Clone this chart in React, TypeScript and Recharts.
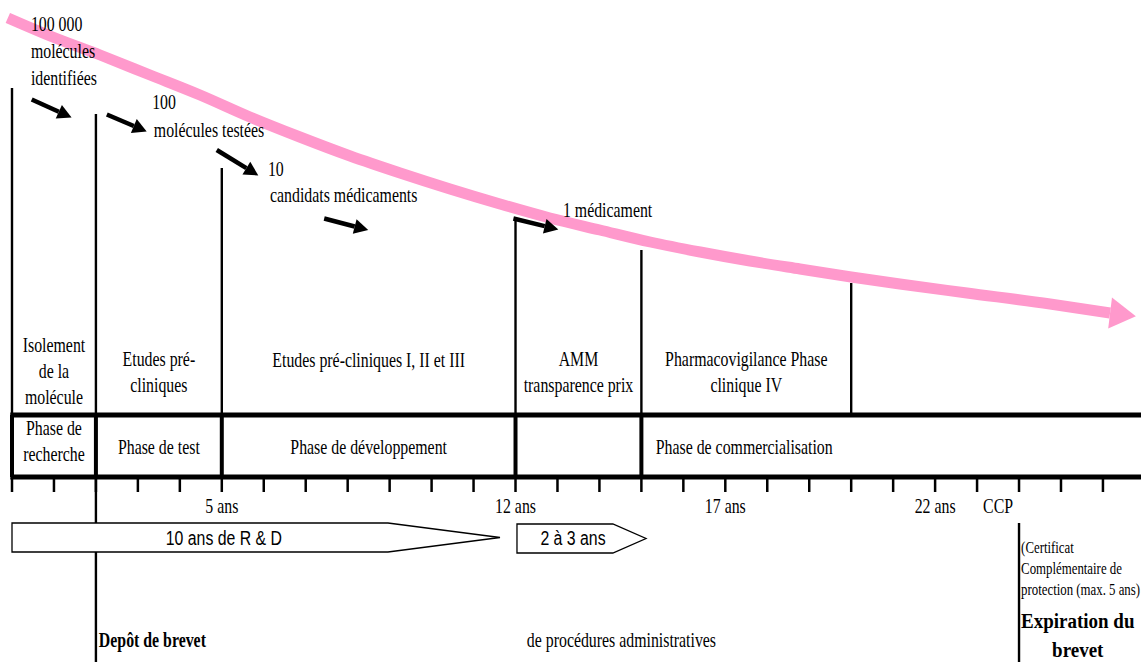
import React from 'react';
import { ComposedChart, Line, XAxis, YAxis, ReferenceLine, ReferenceArea, Scatter } from 'recharts';

const CHART_W = 1141;
const CHART_H = 662;
const YEAR_DOMAIN: [number, number] = [-0.286, 26.907];
const LEVEL_DOMAIN: [number, number] = [0, 662];

// Attrition curve (pink)
const curveYears = [-0.1, 0.91, 2.1, 3.29, 4.48, 5.67, 6.86, 8.06, 9.25, 10.44, 11.63, 12.82, 14.01, 15.21, 16.4, 17.59, 18.78, 20.0, 21.16, 22.76, 24.74, 26.17];
const curveLevels = [18, 36, 55, 75, 95, 117, 137, 156, 173, 189, 204, 218, 230, 242, 252, 261, 269, 277, 284, 293, 304, 313];
const curveData = curveYears.map((year, i) => ({ year, level: curveLevels[i] }));

// Small black arrows
const flowArrows = [
  { yearA: 0.47, levelA: 99.5, yearB: 1.42, levelB: 117.5 },
  { yearA: 2.26, levelA: 114.5, yearB: 3.21, levelB: 131.5 },
  { yearA: 4.88, levelA: 150, yearB: 5.87, levelB: 175.5 },
  { yearA: 7.44, levelA: 218.5, yearB: 8.49, levelB: 230 },
  { yearA: 11.95, levelA: 218.5, yearB: 13.02, levelB: 229.5 },
];

// Vertical dividers
const upperDividers = [
  { year: 0, top: 88 },
  { year: 2, top: 114 },
  { year: 5, top: 168 },
  { year: 12, top: 219 },
  { year: 15, top: 250 },
  { year: 20, top: 283 },
];
const lowerDividers = [0, 2, 5, 12, 15];
const milestoneDividers = [
  { year: 2, top: 477, bottom: 523 },
  { year: 2, top: 552, bottom: 662 },
  { year: 24, top: 523, bottom: 662 },
];
const tableRules = [415, 477];
const tickYears = [0, 1, 2, 3, 4, 5, 6, 7, 8, 9, 10, 11, 12, 13, 14, 15, 16, 17, 18, 19, 20, 21, 22, 23, 24, 25, 26];

// Duration arrows
const durationBoxes = [
  { from: 0, bodyEnd: 8.96, tip: 11.63, top: 523, bottom: 552 },
  { from: 12.035, bodyEnd: 14.32, tip: 15.11, top: 524, bottom: 553 },
];

// Texts
const noteTexts = [
  { year: 0.45, level: 31, lines: ['100 000', 'molécules', 'identifiées'], kind: 'note' },
  { year: 3.34, level: 109, lines: ['100'], kind: 'note' },
  { year: 3.38, level: 137, lines: ['molécules testées'], kind: 'note' },
  { year: 6.1, level: 176, lines: ['10'], kind: 'note' },
  { year: 6.15, level: 202, lines: ['candidats médicaments'], kind: 'note' },
  { year: 13.13, level: 217, lines: ['1 médicament'], kind: 'note' },
];
const upperCells = [
  { year: 1, level: 352, lines: ['Isolement', 'de la', 'molécule'], kind: 'cell' },
  { year: 3.5, level: 366, lines: ['Etudes pré-', 'cliniques'], kind: 'cell' },
  { year: 8.5, level: 367, lines: ['Etudes pré-cliniques I, II et III'], kind: 'cell' },
  { year: 13.5, level: 366, lines: ['AMM', 'transparence prix'], kind: 'cell' },
  { year: 17.5, level: 366, lines: ['Pharmacovigilance Phase', 'clinique IV'], kind: 'cell' },
];
const lowerCells = [
  { year: 1, level: 435, lines: ['Phase de', 'recherche'], kind: 'cell' },
  { year: 3.5, level: 454, lines: ['Phase de test'], kind: 'cell' },
  { year: 8.5, level: 454, lines: ['Phase de développement'], kind: 'cell' },
  { year: 17.45, level: 454, lines: ['Phase de commercialisation'], kind: 'cell' },
];
const tickLabels = [
  { year: 5, level: 513, lines: ['5 ans'], kind: 'cell' },
  { year: 12, level: 513, lines: ['12 ans'], kind: 'cell' },
  { year: 17, level: 513, lines: ['17 ans'], kind: 'cell' },
  { year: 22, level: 513, lines: ['22 ans'], kind: 'cell' },
  { year: 23.5, level: 513, lines: ['CCP'], kind: 'cell' },
];
const durationLabels = [
  { year: 5.05, level: 545, lines: ['10 ans de R & D'], kind: 'sans' },
  { year: 13.37, level: 545, lines: ['2 à 3 ans'], kind: 'sans' },
];
const footTexts = [
  { year: 2.07, level: 647, lines: ['Depôt de brevet'], kind: 'bold' },
  { year: 12.27, level: 647, lines: ['de procédures administratives'], kind: 'note' },
  { year: 24.05, level: 553, lines: ['(Certificat', 'Complémentaire de', 'protection (max. 5 ans)'], kind: 'small' },
  { year: 25.4, level: 628, lines: ['Expiration du', 'brevet'], kind: 'boldCenter' },
];

const allTexts = [...noteTexts, ...upperCells, ...lowerCells, ...tickLabels, ...durationLabels, ...footTexts];

const SERIF = '"Liberation Serif", "Times New Roman", serif';
const SANS = '"Liberation Sans", Arial, sans-serif';
const TEXT_STYLE: Record<string, any> = {
  note: { family: SERIF, size: 21, weight: 400, anchor: 'start', sx: 0.755, lh: 27 },
  cell: { family: SERIF, size: 21, weight: 400, anchor: 'middle', sx: 0.755, lh: 26 },
  small: { family: SERIF, size: 17, weight: 400, anchor: 'start', sx: 0.755, lh: 21 },
  bold: { family: SERIF, size: 21, weight: 700, anchor: 'start', sx: 0.755, lh: 27 },
  boldCenter: { family: SERIF, size: 20, weight: 700, anchor: 'middle', sx: 0.95, lh: 29 },
  sans: { family: SANS, size: 21, weight: 400, anchor: 'middle', sx: 0.755, lh: 26 },
};

const PINK = '#ff99cc';

const TextShape = (props: any) => {
  const { cx, cy, payload } = props;
  const st = TEXT_STYLE[payload.kind];
  return (
    <text
      transform={`translate(${cx},${cy}) scale(${st.sx},1)`}
      textAnchor={st.anchor}
      fontFamily={st.family}
      fontSize={st.size}
      fontWeight={st.weight}
      fill="#000"
    >
      {payload.lines.map((l: string, i: number) => (
        <tspan key={i} x={0} y={i * st.lh}>
          {l}
        </tspan>
      ))}
    </text>
  );
};

const ArrowShape = (props: any) => {
  const { x1, y1, x2, y2 } = props;
  const ang = Math.atan2(y2 - y1, x2 - x1);
  const L = 14;
  const hw = 7.5;
  const bx = x2 - L * Math.cos(ang);
  const by = y2 - L * Math.sin(ang);
  const px = -Math.sin(ang) * hw;
  const py = Math.cos(ang) * hw;
  return (
    <g>
      <line x1={x1} y1={y1} x2={bx} y2={by} stroke="#000" strokeWidth={4.5} />
      <polygon points={`${x2},${y2} ${bx + px},${by + py} ${bx - px},${by - py}`} fill="#000" />
    </g>
  );
};

const makeBoxShape = (box: any) => (props: any) => {
  const { x, y, width, height } = props;
  const frac = (box.bodyEnd - box.from) / (box.tip - box.from);
  const xe = x + width * frac;
  const xt = x + width;
  const ym = y + height / 2;
  return (
    <polygon
      points={`${x},${y} ${xe},${y} ${xt},${ym} ${xe},${y + height} ${x},${y + height}`}
      fill="#fff"
      stroke="#000"
      strokeWidth={1.3}
    />
  );
};

const renderCurveDot = (props: any) => {
  const { cx, cy, index } = props;
  if (index !== curveData.length - 1) return <g key={`d${index}`} />;
  const ang = (7 * Math.PI) / 180;
  const pts = [
    [0, -15.5],
    [26, 0],
    [0, 15.5],
  ]
    .map(([a, b]) => `${cx + a * Math.cos(ang) - b * Math.sin(ang)},${cy + a * Math.sin(ang) + b * Math.cos(ang)}`)
    .join(' ');
  return <polygon key={`d${index}`} points={pts} fill={PINK} />;
};

export default function App() {
  return (
    <div style={{ position: 'absolute', left: 0, top: 0, width: CHART_W, height: CHART_H, background: '#fff' }}>
      <ComposedChart width={CHART_W} height={CHART_H} margin={{ top: 0, right: 0, bottom: 0, left: 0 }}>
        <XAxis type="number" dataKey="year" domain={YEAR_DOMAIN} hide allowDataOverflow />
        <YAxis type="number" dataKey="level" domain={LEVEL_DOMAIN} reversed hide allowDataOverflow />

        {upperDividers.map((d, i) => (
          <ReferenceLine
            key={`u${i}`}
            segment={[{ x: d.year, y: d.top }, { x: d.year, y: tableRules[0] }]}
            stroke="#000"
            strokeWidth={2.4}
            ifOverflow="visible"
          />
        ))}
        {lowerDividers.map((yr, i) => (
          <ReferenceLine
            key={`l${i}`}
            segment={[{ x: yr, y: tableRules[0] }, { x: yr, y: tableRules[1] }]}
            stroke="#000"
            strokeWidth={4}
            ifOverflow="visible"
          />
        ))}
        {milestoneDividers.map((d, i) => (
          <ReferenceLine
            key={`m${i}`}
            segment={[{ x: d.year, y: d.top }, { x: d.year, y: d.bottom }]}
            stroke="#000"
            strokeWidth={2.4}
            ifOverflow="visible"
          />
        ))}
        {tableRules.map((lv, i) => (
          <ReferenceLine
            key={`r${i}`}
            segment={[{ x: -0.04, y: lv }, { x: YEAR_DOMAIN[1], y: lv }]}
            stroke="#000"
            strokeWidth={5}
            ifOverflow="visible"
          />
        ))}
        {tickYears.map((yr) => (
          <ReferenceLine
            key={`t${yr}`}
            segment={[{ x: yr, y: 478 }, { x: yr, y: 492 }]}
            stroke="#000"
            strokeWidth={2.5}
            ifOverflow="visible"
          />
        ))}

        {durationBoxes.map((b, i) => (
          <ReferenceArea
            key={`b${i}`}
            x1={b.from}
            x2={b.tip}
            y1={b.top}
            y2={b.bottom}
            ifOverflow="visible"
            shape={makeBoxShape(b)}
          />
        ))}

        <Line
          data={curveData}
          dataKey="level"
          type="monotone"
          stroke={PINK}
          strokeWidth={11}
          dot={renderCurveDot}
          activeDot={false}
          isAnimationActive={false}
        />

        {flowArrows.map((a, i) => (
          <ReferenceLine
            key={`a${i}`}
            segment={[{ x: a.yearA, y: a.levelA }, { x: a.yearB, y: a.levelB }]}
            ifOverflow="visible"
            shape={ArrowShape}
          />
        ))}

        <Scatter data={allTexts} shape={TextShape} isAnimationActive={false} />
      </ComposedChart>
    </div>
  );
}
